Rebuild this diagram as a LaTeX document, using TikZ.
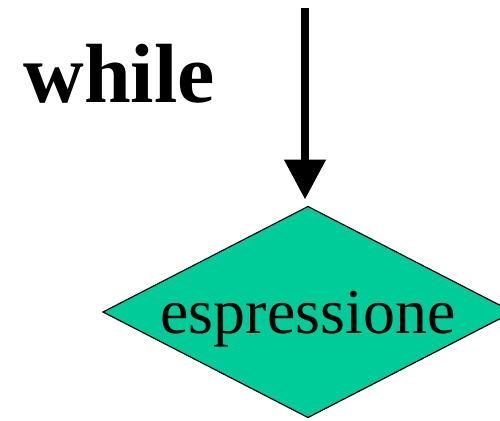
\documentclass[tikz,border=0pt]{standalone}
\usepackage{fontspec}
\setmainfont{Liberation Serif}
\usepackage{tikz}
\usetikzlibrary{arrows.meta,shapes.geometric}

\definecolor{condgreen}{RGB}{0,204,153}

\begin{document}
\begin{tikzpicture}[x=1pt,y=-1pt,
            cond/.style={diamond, draw=black, line width=1.2pt, fill=condgreen,
                         aspect=2, inner sep=0pt, outer sep=0pt,
                         minimum width=410pt, minimum height=211pt},
            flow/.style={line width=8pt, -{Triangle[width=40pt,length=40pt]}}]
            \useasboundingbox (0,0) rectangle (500,420);
            \coordinate (top) at (305,8);
            
            \node[cond] (test) at (308,312) {};
            \node at (308,333) [anchor=base] (testtext)
                {\fontsize{64}{64}\selectfont espressione};
            \node at (20,102) [anchor=base west] (kw)
                {\fontsize{84}{84}\selectfont\bfseries while};
            
            \draw[flow, shorten >=7pt] (top) -- (test.north -| top);
            
            \end{tikzpicture}
\end{document}
